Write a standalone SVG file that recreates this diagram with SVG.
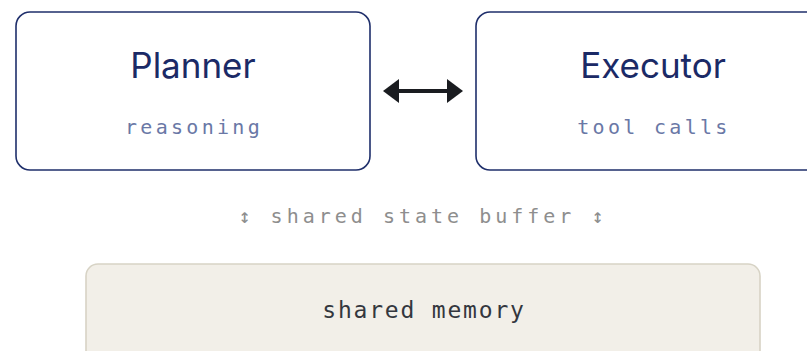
<svg xmlns="http://www.w3.org/2000/svg" width="807" height="351" viewBox="0 0 807 351">
  <style>
    .agent { fill: #ffffff; stroke: #1f2f6b; stroke-width: 1.6; }
    .title { font-family: Inter, "Noto Sans", "Liberation Sans", sans-serif; font-size: 35px; font-weight: 400; fill: #1b2a66; text-anchor: middle; }
    .sub { font-family: "DejaVu Sans Mono", "Liberation Mono", monospace; font-size: 20px; letter-spacing: 3.3px; fill: #6a78a6; text-anchor: middle; }
    .note { font-family: "DejaVu Sans Mono", "Liberation Mono", monospace; font-size: 20px; letter-spacing: 4px; fill: #8e8e8e; text-anchor: middle; }
    .mem { fill: #f2efe8; stroke: #d7d3c5; stroke-width: 1.6; }
    .memtext { font-family: "DejaVu Sans Mono", "Liberation Mono", monospace; font-size: 23px; letter-spacing: 1.8px; fill: #34373e; text-anchor: middle; }
    .link { stroke: #1a1c20; stroke-width: 4; fill: none; }
  </style>
  <defs>
    <marker id="head" viewBox="0 0 16 24" refX="1" refY="12" markerWidth="16" markerHeight="24" markerUnits="userSpaceOnUse" orient="auto-start-reverse">
      <path d="M0,0 L16,12 L0,24 z" fill="#1a1c20"/>
    </marker>
  </defs>

  <g id="planner">
    <rect class="agent" x="16" y="12" width="354" height="158" rx="14"/>
    <text class="title" x="193" y="78">Planner</text>
    <text class="sub" x="194" y="134">reasoning</text>
  </g>

  <g id="executor">
    <rect class="agent" x="476" y="12" width="354" height="158" rx="14"/>
    <text class="title" x="653" y="78">Executor</text>
    <text class="sub" x="654" y="134">tool calls</text>
  </g>

  <g id="connectors">
    <line class="link" x1="398" y1="91" x2="448" y2="91" marker-start="url(#head)" marker-end="url(#head)"/>
  </g>

  <g id="state-label">
    <text class="note" x="423" y="223">↕ shared state buffer ↕</text>
  </g>

  <g id="shared-memory">
    <rect class="mem" x="86" y="264" width="674" height="110" rx="12"/>
    <text class="memtext" x="424" y="318">shared memory</text>
  </g>
</svg>
